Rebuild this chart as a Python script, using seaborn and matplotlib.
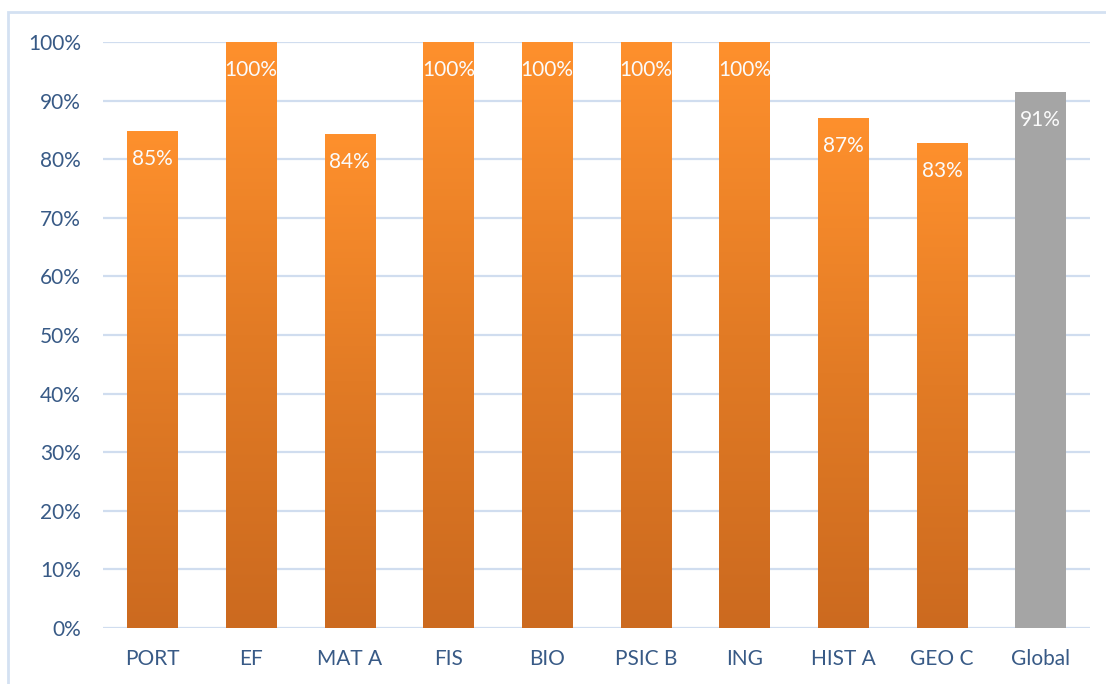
import numpy as np
import pandas as pd
import matplotlib
matplotlib.use("Agg")
import matplotlib.pyplot as plt
from matplotlib.colors import LinearSegmentedColormap
from matplotlib.patches import Rectangle
import seaborn as sns

categories = ["PORT", "EF", "MAT A", "FIS", "BIO", "PSIC B", "ING", "HIST A", "GEO C", "Global"]
values = [0.848, 1.00, 0.843, 1.00, 1.00, 1.00, 1.00, 0.870, 0.828, 0.915]
labels = ["85%", "100%", "84%", "100%", "100%", "100%", "100%", "87%", "83%", "91%"]
yticks = [0, 0.1, 0.2, 0.3, 0.4, 0.5, 0.6, 0.7, 0.8, 0.9, 1.0]

sns.set_theme(style="white")
plt.rcParams['font.family'] = ['Lato', 'DejaVu Sans']

df = pd.DataFrame({"cat": categories, "val": values})
fig = plt.figure(figsize=(11.06, 6.84), dpi=100)
ax = fig.add_axes([103/1106, 1-628/684, (1090-103)/1106, (628-42)/684])

palette = ["#FD8F2C"] * 9 + ["#A5A5A5"]
sns.barplot(data=df, x="cat", y="val", hue="cat", palette=palette, legend=False,
            width=0.51, ax=ax, zorder=3)

ax.set_ylim(0, 1.0)
ax.set_xlim(-0.5, len(categories) - 0.5)

orange = LinearSegmentedColormap.from_list("og", ["#CC6A1F", "#E27B25", "#FE902D"])
grad = np.linspace(0, 1, 256).reshape(-1, 1)
for i, p in enumerate(ax.patches):
    x0, y0 = p.get_x(), p.get_y()
    w, h = p.get_width(), p.get_height()
    if categories[i] != "Global":
        p.set_facecolor("none")
        im = ax.imshow(grad, cmap=orange, aspect="auto", origin="lower",
                       extent=[x0, x0 + w, y0, y0 + h], zorder=3)
        im.set_clip_path(p)
    p.set_edgecolor("none")
    ax.annotate(labels[i], (x0 + w / 2, y0 + h), xytext=(0, -20),
                textcoords="offset points", ha="center", va="center",
                color="#FBFBFB", fontsize=15, zorder=5)

ax.set_xlim(-0.5, len(categories) - 0.5)
ax.set_ylim(0, 1.0)
ax.set_yticks(yticks)
ax.set_yticklabels([f"{int(round(t*100))}%" for t in yticks])
ax.grid(axis="y", color="#D0DDEF", linewidth=1.6, zorder=0)
ax.set_axisbelow(True)
for s in ax.spines.values():
    s.set_visible(False)
ax.tick_params(axis="both", length=0, labelsize=15, colors="#385A86")
ax.tick_params(axis="y", pad=16)
ax.tick_params(axis="x", pad=15)
ax.set_xlabel("")
ax.set_ylabel("")

fig.patches.append(Rectangle((8/1106, -0.1), 1.2, 1 - 12/684 + 0.1, transform=fig.transFigure,
                             fill=False, edgecolor="#D4E1F2", linewidth=2, zorder=0))

fig.savefig("out.png", dpi=100)
